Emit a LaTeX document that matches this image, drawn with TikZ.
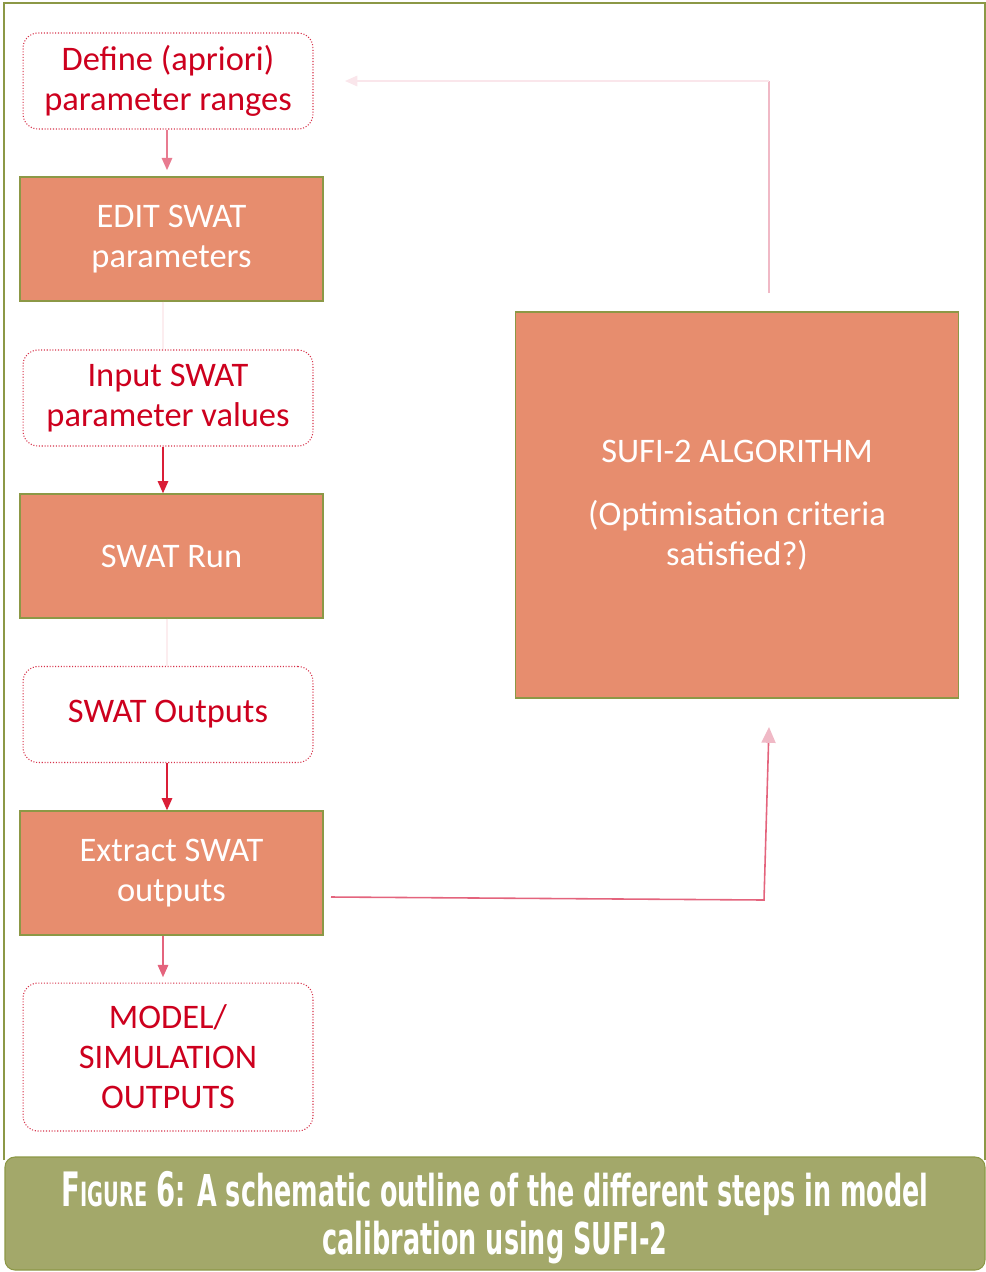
\documentclass[tikz,border=0pt]{standalone}
\usepackage{fontspec}
\setmainfont{Carlito}
\newfontfamily\capfont[FakeStretch=0.58]{DejaVu Sans}
\usetikzlibrary{arrows.meta}

\definecolor{boxorange}{RGB}{231,141,110}
\definecolor{boxedge}{RGB}{140,152,70}
\definecolor{steptext}{RGB}{205,0,30}
\definecolor{flowred}{RGB}{218,30,55}
\definecolor{flowpink}{RGB}{228,100,125}
\definecolor{flowpale}{RGB}{240,185,198}
\definecolor{capgreen}{RGB}{163,168,106}

\begin{document}
\begin{tikzpicture}[x=0.02cm, y=-0.02cm,
    stepbox/.style={draw=steptext!80, densely dotted, line width=0.6pt, rounded corners=0.3cm,
        fill=white, text=steptext, minimum width=5.8cm, minimum height=1.92cm,
        align=center, font=\fontsize{19.6}{22.7}\selectfont},
    runbox/.style={draw=boxedge, line width=0.8pt, fill=boxorange, text=white,
        minimum width=6.06cm, minimum height=2.48cm,
        align=center, font=\fontsize{19.6}{22.7}\selectfont},
    flow/.style={draw=flowred, line width=0.9pt, -{Triangle[length=7pt,width=6pt]}},
    softflow/.style={draw=flowpink, line width=0.8pt, -{Triangle[length=7pt,width=6pt]}},
    ghost/.style={draw=flowred!8, line width=0.8pt}]

    \useasboundingbox (0,0) rectangle (986,1272);

    % page frame
    \draw [boxedge, line width=0.8pt] (4,1160) -- (4,3) -- (985,3) -- (985,1160);

    % left column
    \node [stepbox] (define) at (168,81) {Define (apriori)\\parameter ranges};
    \node [runbox] (edit) at (171.5,239) {EDIT SWAT\\parameters};
    \node [stepbox] (input) at (168,398) {Input SWAT\\parameter values};
    \node [runbox] (run) at (171.5,556) {SWAT Run};
    \node [stepbox] (outputs) at (168,714.5) {SWAT Outputs};
    \node [runbox] (extract) at (171.5,873) {Extract SWAT\\outputs};
    \node [stepbox, minimum height=2.96cm] (model) at (168,1057) {MODEL/\\SIMULATION\\OUTPUTS};

    % algorithm block
    \node [runbox, minimum width=8.86cm, minimum height=7.72cm] (sufi) at (737,505)
        {SUFI-2 ALGORITHM\\[13pt](Optimisation criteria\\satisfied?)};

    % helper points for the loop
    \coordinate (outx) at (331,897);
    \coordinate (turnlow) at (764,900);
    \coordinate (intosufi) at (769,727);
    \coordinate (fromsufi) at (769,293);
    \coordinate (turnhigh) at (769,81);
    \coordinate (backin) at (345,81);

    % connectors
    \draw [softflow, draw=flowpink!85, shorten >=3.5pt] (define.south -| 167,0) -- (edit.north -| 167,0);
    \draw [ghost] (edit.south -| 163,0) -- (input.north -| 163,0);
    \draw [flow] (input.south -| 163,0) -- (run.north -| 163,0);
    \draw [ghost] (run.south -| 167,0) -- (outputs.north -| 167,0);
    \draw [flow] (outputs.south -| 167,0) -- (extract.north -| 167,0);
    \draw [softflow] (extract.south -| 163,0) -- ([yshift=3pt]model.north -| 163,0);

    \draw [draw=flowpink, line width=0.9pt,
        -{Triangle[length=9pt,width=8pt,color=flowpale]}]
        (outx) -- (turnlow) -- (intosufi);
    \draw [draw=flowpale, line width=0.8pt] (fromsufi) -- (turnhigh);
    \draw [draw=flowpale!35, line width=0.8pt, -{Triangle[length=7pt,width=6pt]}]
        (turnhigh) -- (backin);

    % caption bar
    \fill [capgreen, draw=boxedge, line width=0.6pt, rounded corners=0.2cm]
        (5,1157) rectangle (985,1270);
    \node [text=white, align=center, font=\capfont\bfseries\fontsize{25}{27.2}\selectfont]
        (caption) at (495,1218)
        {{\fontsize{27}{27}\selectfont F}{\fontsize{19}{27}\selectfont IGURE} {\fontsize{27}{27}\selectfont 6}: A schematic outline of the different steps in model\\calibration using SUFI-2};
\end{tikzpicture}
\end{document}
